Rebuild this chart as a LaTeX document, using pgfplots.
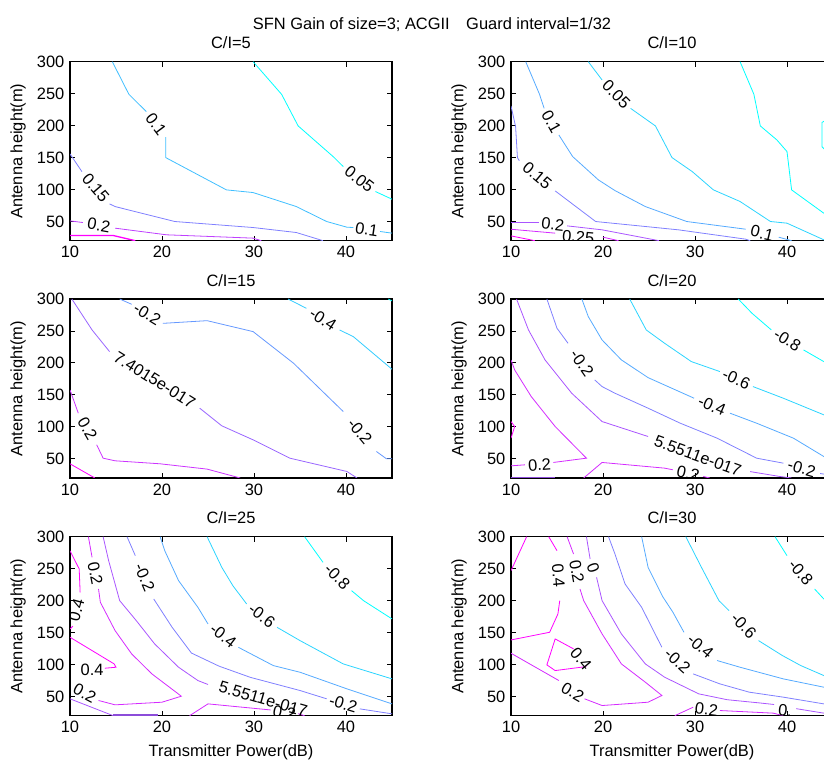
\documentclass[border=0pt]{standalone}
\usepackage{fontspec}
\setmainfont{Liberation Sans}
\usepackage{pgfplots}
\pgfplotsset{compat=1.18}
\definecolor{k0}{rgb}{0,1,1}
\definecolor{k167}{rgb}{0.167,0.833,1}
\definecolor{k20}{rgb}{0.2,0.8,1}
\definecolor{k25}{rgb}{0.25,0.75,1}
\definecolor{k333}{rgb}{0.333,0.667,1}
\definecolor{k40}{rgb}{0.4,0.6,1}
\definecolor{k50}{rgb}{0.5,0.5,1}
\definecolor{k60}{rgb}{0.6,0.4,1}
\definecolor{k667}{rgb}{0.667,0.333,1}
\definecolor{k75}{rgb}{0.75,0.25,1}
\definecolor{k80}{rgb}{0.8,0.2,1}
\definecolor{k833}{rgb}{0.833,0.167,1}
\definecolor{k100}{rgb}{1,0,1}
\definecolor{kedge}{rgb}{0.55,0.3,0.85}
\pgfplotsset{
  panel/.style={anchor=south west, width=322bp, height=179bp, scale only axis,
    xmin=10, xmax=45, ymin=20, ymax=300,
    xtick={10,20,30,40}, ytick={50,100,150,200,250,300},
    tick align=inside, major tick length=5bp,
    axis line style={line width=1.1bp}, every tick/.style={line width=0.9bp, black},
    /pgf/number format/assume math mode=true,
    ylabel={Antenna height(m)},
    clip=true,
    title style={yshift=1bp},
  },
  cl/.style={line width=0.8bp, no markers},
}
\newcommand{\lab}[4]{\node[rotate=#3, inner sep=0pt] at (axis cs:#1,#2) {#4};}
\newcommand{\clab}[4]{\pgfplotsextra{\begin{scope}\clip (axis cs:10,20) rectangle (axis cs:45,300);
  \node[rotate=#3, inner sep=0pt] at (axis cs:#1,#2) {#4};\end{scope}}}
\begin{document}
\fontsize{16.5}{19}\selectfont
\begin{tikzpicture}
\useasboundingbox (0,0) rectangle (824bp,766bp);
\node at (432bp,741bp) {SFN Gain of size=3; ACGII\quad Guard interval=1/32};
% ---------------- C/I=5
\begin{axis}[panel, at={(70bp,525.3bp)}, title={C/I=5}]
\addplot[k0,cl] coordinates {(29.9,300) (33.0,249) (34.8,199.5) (38.6,151.6) (39.7,136)};
\addplot[k0,cl] coordinates {(43.2,96.9) (45,84.9)};
\addplot[k25,cl] coordinates {(14.6,300) (16.4,249) (18.3,221.9)};
\addplot[k25,cl] coordinates {(20.4,182) (20.4,150) (27.0,99.5) (29.9,95.3) (34.6,73.4) (37.9,50) (40.1,41.1) (40.8,40.6)};
\addplot[k25,cl] coordinates {(43.7,34.4) (45,31.8)};
\addplot[k50,cl] coordinates {(10,155.7) (11.3,128)};
\addplot[k50,cl] coordinates {(14.3,77.6) (14.9,73.4) (21.4,50) (29.9,40.6) (34.6,32.8) (37.5,20)};
\addplot[k75,cl] coordinates {(10,51) (11.4,48.4)};
\addplot[k75,cl] coordinates {(14.9,39.6) (20.5,29.2) (29.9,24) (30.8,20)};
\addplot[k100,line width=1.3bp,no markers] coordinates {(10,28.1) (14.7,28.1) (17.1,20)};
\lab{19.35}{202}{-53}{0.1}
\lab{41.45}{116.5}{-38}{0.05}
\lab{42.25}{37.5}{-8.5}{0.1}
\lab{12.8}{102.8}{-49.5}{0.15}
\lab{13.15}{44}{-10}{0.2}
\end{axis}
% ---------------- C/I=10
\begin{axis}[panel, at={(511bp,525.3bp)}, title={C/I=10}]
\addplot[k0,cl] coordinates {(34.9,300) (36.4,249) (37.1,199.5) (38.9,177.6) (40.0,159.4) (40.5,99.5) (44.0,63) (45,57)};
\addplot[k0,cl] coordinates {(45,215) (43.8,205) (43.8,167) (45,150)};
\addplot[k167,cl] coordinates {(18.4,300) (19.9,271.4)};
\addplot[k167,cl] coordinates {(23.0,227) (25.7,199.5) (27.5,150) (29.7,128.1) (32.0,99.5) (34.9,81.3) (38.2,50) (40.0,47.4) (44.0,21.4) (44.3,20)};
\addplot[k333,cl] coordinates {(11.6,300) (13.1,249) (13.6,227)};
\addplot[k333,cl] coordinates {(15.2,185.4) (16.7,151.6) (19.5,115.1) (21.3,98.4) (24.6,73.4) (29.1,50) (35.5,38)};
\addplot[k333,cl] coordinates {(39.1,25.5) (40.5,20)};
\addplot[k50,cl] coordinates {(10,230.7) (10.5,198.4) (10.7,150) (10.9,145)};
\addplot[k50,cl] coordinates {(14.8,97.9) (19.2,50) (28.2,37) (35.5,22.4) (36,20)};
\addplot[k667,cl] coordinates {(10,48.4) (13.0,48.4)};
\addplot[k667,cl] coordinates {(16.1,43.2) (19.9,37) (26.1,20)};
\addplot[k833,cl] coordinates {(10,37.9) (14.8,31.8)};
\addplot[k833,cl] coordinates {(20.0,25.5) (21.7,20)};
\addplot[k100,cl] coordinates {(10,27.5) (12.6,20)};
\lab{21.45}{249.2}{-45}{0.05}
\lab{14.4}{206.2}{-61}{0.1}
\lab{12.85}{121.5}{-40}{0.15}
\lab{37.3}{31.8}{-13.6}{0.1}
\lab{14.55}{45.8}{-6.6}{0.2}
\clab{17.3}{26}{-4.8}{0.25}
\end{axis}
% ---------------- C/I=15
\begin{axis}[panel, at={(70bp,288bp)}, title={C/I=15}]
\addplot[k0,cl] coordinates {(44.6,300) (45,297)};
\addplot[k20,cl] coordinates {(33.7,300) (35.7,285.4)};
\addplot[k20,cl] coordinates {(39.3,251.6) (40.8,241.1) (45,190.1)};
\addplot[k40,cl] coordinates {(15.4,300) (16.7,291.7)};
\addplot[k40,cl] coordinates {(20.1,261.9) (24.9,266.1) (29.9,249) (34.3,199.5) (39.7,124)};
\addplot[k40,cl] coordinates {(43.3,61.5) (44.4,50) (45,50)};
\addplot[k60,cl] coordinates {(10.2,300) (12.4,251.6) (14.3,217.7)};
\addplot[k60,cl] coordinates {(24.1,129.2) (26.5,101.6) (29.9,79.7) (33.9,51) (40.1,30.2) (41.2,20)};
\addplot[k80,cl] coordinates {(10,157.8) (10.9,121.4)};
\addplot[k80,cl] coordinates {(12.9,72) (13.6,51) (14.9,46.9) (19.8,42.2) (24.9,33.9) (28.5,20)};
\addplot[k100,cl] coordinates {(10,42.2) (12.7,20)};
\lab{18.4}{276.8}{-31.4}{-0.2}
\lab{19.2}{173.5}{-32}{7.4015e-017}
\lab{37.5}{268.5}{-33}{-0.4}
\lab{41.5}{92.8}{-50.4}{-0.2}
\lab{11.9}{96.7}{-60}{0.2}
\end{axis}
% ---------------- C/I=20
\begin{axis}[panel, at={(511bp,288bp)}, title={C/I=20}]
\addplot[k0,cl] coordinates {(34.7,300) (36.2,277.6) (38.3,251.6)};
\addplot[k0,cl] coordinates {(41.8,220.3) (44.0,202.1) (45,196)};
\addplot[k167,cl] coordinates {(22.9,300) (24.7,251.6) (26.7,230.7) (29.6,202.1) (32.7,186.5)};
\addplot[k167,cl] coordinates {(36.3,163) (39.6,144.8) (44.0,118.8) (45,113)};
\addplot[k333,cl] coordinates {(17.7,300) (18.4,272.4) (19.9,235.9) (22.0,204.7) (24.9,177) (29.9,144.8)};
\addplot[k333,cl] coordinates {(33.8,121.4) (36.7,105.7) (40.7,82.3) (44.0,53.6) (45,46)};
\addplot[k50,cl] coordinates {(13.9,300) (15.0,254.2) (16.2,230.7)};
\addplot[k50,cl] coordinates {(19.1,173.4) (19.9,163) (21.3,152.6) (24.9,129.2) (28.4,105.7) (32.4,82.3) (36.7,51) (39.6,43.2)};
\addplot[k50,cl] coordinates {(43.6,27) (45,24)};
\addplot[k667,cl] coordinates {(10.6,300) (11.9,251.6) (13.7,204.7) (16.6,152.6) (19.9,108.3) (24.9,84.9)};
\addplot[k667,cl] coordinates {(36.0,30) (39.2,22.4) (40.5,20)};
\addplot[k833,cl] coordinates {(10,204.7) (10.4,189) (12.2,147.4) (14.8,100.5) (18.2,51) (14.6,44.3)};
\addplot[k833,cl] coordinates {(11.5,40.6) (10,39)};
\addplot[k833,cl] coordinates {(17.9,20) (19.9,44.3) (26.7,35.4) (27.6,32.8)};
\addplot[k833,cl] coordinates {(30.9,22.4) (31.6,20)};
\addplot[k100,cl] coordinates {(10,108.3) (10.4,100.5) (10,82.3)};
\addplot[kedge,line width=1.6bp,no markers] coordinates {(10,20.8) (14.8,20.8)};
\lab{17.7}{200}{-55}{-0.2}
\lab{31.85}{133}{-23}{-0.4}
\lab{34.5}{174.8}{-24}{-0.6}
\lab{40.05}{236}{-32}{-0.8}
\lab{30.3}{55}{-20}{5.5511e-017}
\lab{13.1}{41}{4}{0.2}
\clab{29.25}{27}{-12}{0.2}
\lab{41.6}{35.1}{-16}{-0.2}
\end{axis}
% ---------------- C/I=25
\begin{axis}[panel, at={(70bp,50.3bp)}, title={C/I=25}, xlabel={Transmitter Power(dB)}]
\addplot[k0,cl] coordinates {(35.5,300) (37.5,259.9)};
\addplot[k0,cl] coordinates {(40.6,215.6) (41.9,200) (45,171.4)};
\addplot[k167,cl] coordinates {(24.9,300) (26.5,252.1) (27.7,223.4) (29.2,194.8)};
\addplot[k167,cl] coordinates {(32.5,158.3) (35.0,137.5) (39.7,101) (45,77.6)};
\addplot[k333,cl] coordinates {(19.8,300) (20.3,278.1) (21.8,231.3) (23.9,189.6) (25.0,163.5)};
\addplot[k333,cl] coordinates {(28.3,127) (32.1,98.4) (35.0,88) (40.1,62) (45,38.5)};
\addplot[k50,cl] coordinates {(16.2,300) (17.1,270.3)};
\addplot[k50,cl] coordinates {(19.1,202.6) (21.1,158.3) (23.2,118) (26.2,97.5) (29.6,80) (35.0,59.4) (37.9,46.4)};
\addplot[k50,cl] coordinates {(41.5,30.7) (45,22.9)};
\addplot[k667,cl] coordinates {(13.6,300) (14.2,262.5) (15.4,200) (17.2,168.8) (19.2,132.3) (21.8,95.8) (23.9,75) (25.0,68.8)};
\addplot[k667,cl] coordinates {(10,46.4) (14.7,20)};
\addplot[kedge,line width=1.6bp,no markers] coordinates {(14.7,20.8) (19.6,20.8)};
\addplot[k833,cl] coordinates {(12.0,300) (12.4,267.7)};
\addplot[k833,cl] coordinates {(13.1,218.2) (13.3,197.4) (14.9,153.1) (16.7,116.7) (18.9,85.4) (22.1,50.5) (20.0,41.1) (14.9,37) (13.1,43.8)};
\addplot[k833,cl] coordinates {(23.0,20) (25.0,38.5) (31.8,29)};
\addplot[k833,cl] coordinates {(34.8,23) (35.5,20)};
\addplot[k100,cl] coordinates {(10,278) (11.0,249.5) (11.1,213)};
\addplot[k100,cl] coordinates {(10.3,160) (10,155.7)};
\addplot[k100,cl] coordinates {(10,142.7) (14.8,101) (15.0,95.8) (13.8,94.3)};
\lab{10.7}{185}{75}{0.4}
\lab{12.4}{92}{0}{0.4}
\lab{12.75}{243}{-78.6}{0.2}
\lab{11.6}{55}{-28}{0.2}
\lab{18.1}{236.5}{-67}{-0.2}
\lab{26.65}{145.3}{-37.6}{-0.4}
\lab{30.85}{176.6}{-37.6}{-0.6}
\lab{39.05}{237.8}{-45}{-0.8}
\lab{31.0}{46}{-16}{5.5511e-017}
\lab{39.7}{38.5}{-16.8}{-0.2}
\clab{33.3}{25}{-10}{0.2}
\end{axis}
% ---------------- C/I=30
\begin{axis}[panel, at={(511bp,50.3bp)}, title={C/I=30}, xlabel={Transmitter Power(dB)}]
\addplot[k0,cl] coordinates {(38.7,300) (40.0,270.3)};
\addplot[k0,cl] coordinates {(43.0,218.2) (44.0,202.6) (45,190)};
\addplot[k167,cl] coordinates {(29.0,300) (30.7,252.1) (32.6,200) (33.7,184.4)};
\addplot[k167,cl] coordinates {(36.9,137.5) (39.5,114.1) (41.5,98.4) (44.0,82.8) (45,78)};
\addplot[k333,cl] coordinates {(24.2,300) (24.9,252.1) (26.5,206) (27.6,181.8) (28.8,150.5)};
\addplot[k333,cl] coordinates {(32.4,106.3) (34.9,95.8) (39.6,77.6) (44.0,64.6) (45,61)};
\addplot[k50,cl] coordinates {(20.6,300) (21.3,272.9) (22.4,226) (24.2,189.6) (26.4,127)};
\addplot[k50,cl] coordinates {(29.8,85.4) (32.7,69.8) (35.9,56.8) (39.6,49) (44.0,38.5) (45,36)};
\addplot[k667,cl] coordinates {(18.2,300) (18.6,265.1)};
\addplot[k667,cl] coordinates {(19.3,236.5) (19.9,200) (22.0,147.9) (24.6,101) (26.7,80.2) (30.4,54.2) (33.5,45) (37,40) (38.6,37.5)};
\addplot[k667,cl] coordinates {(41,31) (44,24) (45,22)};
\addplot[k833,cl] coordinates {(16.1,300) (16.8,272.9)};
\addplot[k833,cl] coordinates {(17.5,218.2) (17.9,200) (19.9,147.9) (22.0,101) (24.6,72.4) (26.4,51.6) (24.9,41.1) (19.9,35.9) (18.0,46.4)};
\addplot[k833,cl] coordinates {(10,117.7) (15.2,75)};
\addplot[k833,cl] coordinates {(27.8,20) (29.8,33.3)};
\addplot[k833,cl] coordinates {(32.7,28.1) (38.5,24) (39.6,20)};
\addplot[k100,cl] coordinates {(11.7,300) (10,246.9)};
\addplot[k100,cl] coordinates {(14.1,300) (15.0,278.1)};
\addplot[k100,cl] coordinates {(15.3,200) (15.1,179.2) (14.2,150.5) (10,138.5)};
\addplot[k100,cl] coordinates {(16.8,124.5) (14.8,140.1) (13.9,99.5) (14.8,90.6) (18.2,96.9)};
\lab{15.15}{239}{-85}{0.4}
\lab{17.15}{245.5}{-79.6}{0.2}
\lab{18.95}{250.8}{-70.7}{0}
\lab{17.6}{109}{-50}{0.4}
\lab{16.7}{57}{-30}{0.2}
\lab{28.1}{106}{-42}{-0.2}
\lab{30.6}{128.4}{-40.5}{-0.4}
\lab{35.3}{161}{-45.6}{-0.6}
\lab{41.5}{244.3}{-50.3}{-0.8}
\clab{31.25}{30}{-7}{0.2}
\clab{39.8}{28}{-5}{0.}
\end{axis}
\end{tikzpicture}
\end{document}
